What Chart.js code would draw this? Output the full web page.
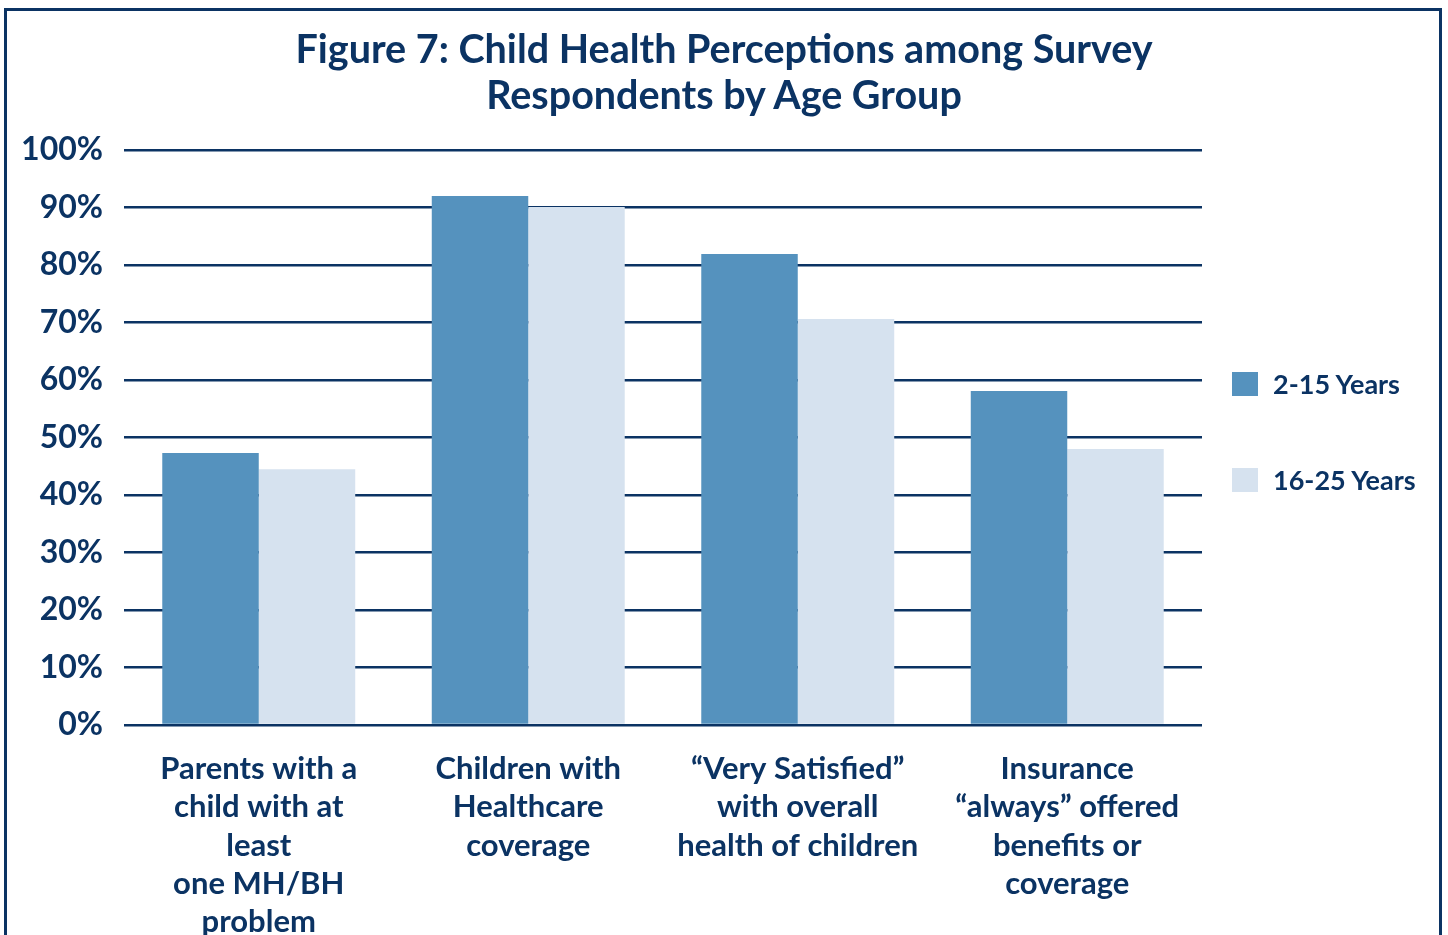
<!DOCTYPE html>
<html>
<head>
<meta charset="utf-8">
<title>Figure 7</title>
<script src="https://cdn.jsdelivr.net/npm/chart.js@4/dist/chart.umd.min.js"></script>
<style>
  html, body { margin: 0; padding: 0; background: #fff; overflow: hidden; }
  body { width: 1448px; height: 935px; position: relative; font-family: Lato, "Noto Sans", sans-serif; color: #0b3363; }
  #frame { position: absolute; left: 4px; top: 8px; width: 1438px; height: 1000px; border: 3px solid #0b3363; box-sizing: border-box; }
  #title { position: absolute; left: 0; top: 25px; width: 1448px; text-align: center; font-weight: 700; font-size: 39.5px; line-height: 46px; }
  #chart-box { position: absolute; left: 0; top: 0; width: 1448px; height: 1000px; }
  #legend { position: absolute; left: 1232px; top: 0; }
  .leg-item { position: absolute; left: 0; width: 220px; height: 30px; white-space: nowrap; font-weight: 700; font-size: 27px; line-height: 30px; }
  .leg-swatch { position: absolute; left: 0; top: 3px; width: 26px; height: 24px; }
  .leg-text { position: absolute; left: 41px; top: 0; }
</style>
</head>
<body>
<div id="frame"></div>
<div id="chart-box"><canvas id="myChart"></canvas></div>
<div id="title">Figure 7: Child Health Perceptions among Survey<br>Respondents by Age Group</div>
<div id="legend"></div>

<script>
'use strict';

// ******* DATA *******

let categories = [
  ['Parents with a', 'child with at', 'least', 'one MH/BH', 'problem'],
  ['Children with', 'Healthcare', 'coverage'],
  ['\u201CVery Satisfied\u201D', 'with overall', 'health of children'],
  ['Insurance', '\u201Calways\u201D offered', 'benefits or', 'coverage']
];
let seriesNames = ['2-15 Years', '16-25 Years'];
let youngerValues = [47.3, 92.0, 81.9, 58.1];
let olderValues = [44.5, 90.1, 70.6, 48.0];
let yTicks = [0, 10, 20, 30, 40, 50, 60, 70, 80, 90, 100];


// ******* STYLE *******

let navy = '#0b3363';
let seriesColors = ['#5592be', '#d6e2ef'];
let fontFamily = 'Lato, "Noto Sans", sans-serif';


// ******* LEGEND (html) *******

let legendBox = document.getElementById('legend');
for (let i = 0; i < seriesNames.length; i++) {
  let item = document.createElement('div');
  item.className = 'leg-item';
  item.style.top = (369 + i * 96) + 'px';
  let swatch = document.createElement('div');
  swatch.className = 'leg-swatch';
  swatch.style.background = seriesColors[i];
  let text = document.createElement('div');
  text.className = 'leg-text';
  text.textContent = seriesNames[i];
  item.appendChild(swatch);
  item.appendChild(text);
  legendBox.appendChild(item);
}


// ******* CHART *******

const ctx = document.getElementById('myChart').getContext('2d');
const myChart = new Chart(ctx, {
  type: 'bar',
  data: {
    labels: categories,
    datasets: [{
      label: seriesNames[0],
      data: youngerValues,
      backgroundColor: seriesColors[0],
      borderWidth: 0
    }, {
      label: seriesNames[1],
      data: olderValues,
      backgroundColor: seriesColors[1],
      borderWidth: 0
    }]
  },
  options: {
    responsive: true,
    maintainAspectRatio: false,
    animation: false,
    categoryPercentage: 0.716,
    barPercentage: 1.0,
    layout: {
      padding: { left: 0, right: 246, top: 150, bottom: 0 }
    },
    plugins: {
      legend: { display: false },
      title: { display: false },
      tooltip: { enabled: false }
    },
    scales: {
      x: {
        grid: { display: false },
        border: { display: false },
        ticks: {
          color: navy,
          padding: 17,
          maxRotation: 0,
          autoSkip: false,
          font: { family: fontFamily, size: 31, weight: 'bold', lineHeight: 1.235 }
        },
        afterFit: function (scale) {
          scale.height = 275;
        }
      },
      y: {
        min: 0,
        max: 100,
        afterBuildTicks: function (scale) {
          scale.ticks = yTicks.map(v => ({ value: v }));
        },
        grid: {
          color: navy,
          lineWidth: 2.5,
          drawTicks: false
        },
        border: { display: false },
        ticks: {
          color: navy,
          padding: 21,
          font: { family: fontFamily, size: 32, weight: 'bold' },
          callback: function (value) {
            return value + '%';
          }
        },
        afterFit: function (scale) {
          scale.width = 124;
        }
      }
    }
  }
});
</script>
</body>
</html>
